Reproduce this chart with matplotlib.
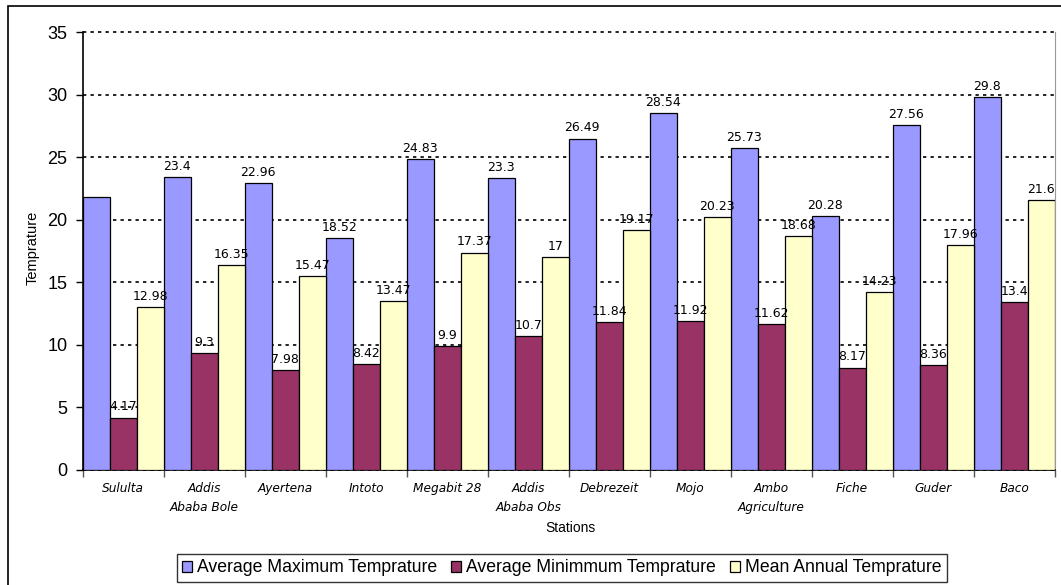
import matplotlib
matplotlib.use('Agg')
from matplotlib import pyplot as plt
from matplotlib.patches import Rectangle
import numpy as np

plt.rcParams['font.family'] = ['Liberation Sans', 'DejaVu Sans']

stations = ['Sululta', 'Addis\nAbaba Bole', 'Ayertena', 'Intoto', 'Megabit 28',
            'Addis\nAbaba Obs', 'Debrezeit', 'Mojo', 'Ambo\nAgriculture',
            'Fiche', 'Guder', 'Baco']
avg_max = [21.8, 23.4, 22.96, 18.52, 24.83, 23.3, 26.49, 28.54, 25.73, 20.28, 27.56, 29.8]
avg_min = [4.17, 9.3, 7.98, 8.42, 9.9, 10.7, 11.84, 11.92, 11.62, 8.17, 8.36, 13.4]
mean_annual = [12.98, 16.35, 15.47, 13.47, 17.37, 17, 19.17, 20.23, 18.68, 14.23, 17.96, 21.6]
series_names = ['Average Maximum Temprature', 'Average Minimmum Temprature',
                'Mean Annual Temprature']
colors = ['#9999FF', '#993366', '#FFFFCC']

fig = plt.figure(figsize=(10.61, 5.85), dpi=100)
ax = fig.add_axes([0.078, 0.197, 0.916, 0.748])

# outer chart border (runs off the right and bottom edges)
fig.patches.append(Rectangle((8 / 1061, -0.05), 1.1, 1 - 6 / 585 + 0.05,
                             transform=fig.transFigure, fill=False,
                             edgecolor='black', linewidth=1.2))

x = np.arange(len(stations))
w = 1 / 3
groups = [avg_max, avg_min, mean_annual]
for i, (vals, name, c) in enumerate(zip(groups, series_names, colors)):
    bars = ax.bar(x + (i - 1) * w, vals, width=w, color=c, edgecolor='black',
                  linewidth=0.9, label=name, zorder=3)
    for j, (b, v) in enumerate(zip(bars, vals)):
        if i == 0 and j == 0:
            continue  # no label on the first bar
        ax.annotate('%g' % v, (b.get_x() + b.get_width() / 2, v),
                    xytext=(0, 3), textcoords='offset points',
                    ha='center', va='bottom', fontsize=9,
                    family='DejaVu Sans', zorder=4)

ax.set_xlim(-0.5, len(stations) - 0.5)
ax.set_ylim(0, 35)
ax.set_yticks(np.arange(0, 36, 5))
ax.tick_params(axis='y', labelsize=13, length=5, width=1, direction='out', pad=6)

ax.set_xticks(np.arange(-0.5, len(stations), 1))
ax.set_xticklabels([])
ax.tick_params(axis='x', length=5, width=1, color='#555555', direction='out')
for xi, name in zip(x, stations):
    ax.text(xi, -1.0, name, ha='center', va='top', fontsize=8.7,
            family='DejaVu Sans', style='italic', linespacing=1.6, zorder=4)

ax.yaxis.grid(True, color='black', linestyle=(0, (2, 2.5)), linewidth=1.2, zorder=0)
ax.set_axisbelow(True)
# keep the top gridline at full width instead of half clipped
for gl in ax.get_ygridlines():
    gl.set_clip_on(False)

ax.spines['top'].set_visible(False)
ax.spines['right'].set_color('#999999')
ax.spines['left'].set_linewidth(1.2)
ax.spines['bottom'].set_linewidth(1.2)

fig.text(570 / 1061, 1 - 528 / 585, 'Stations', ha='center', va='center', fontsize=10)
fig.text(33 / 1061, 1 - 248 / 585, 'Temprature', ha='center', va='center',
         rotation=90, fontsize=10.5)

leg = fig.legend(loc='center', bbox_to_anchor=(562 / 1061, 1 - 568 / 585), ncol=3,
                 fontsize=12.7, frameon=True, fancybox=False, edgecolor='black',
                 handlelength=0.55, handleheight=0.55, handletextpad=0.3,
                 columnspacing=0.8, borderpad=0.3)
leg.get_frame().set_linewidth(1)

fig.savefig('out.png', dpi=100)
